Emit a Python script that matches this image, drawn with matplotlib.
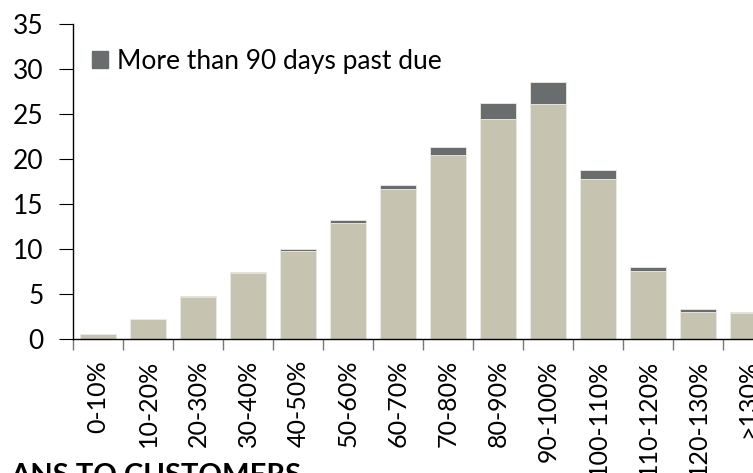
import matplotlib.pyplot as plt
from matplotlib.patches import Patch

plt.rcParams['font.family'] = ['Lato', 'DejaVu Sans']

categories = ['0-10%', '10-20%', '20-30%', '30-40%', '40-50%', '50-60%', '60-70%',
              '70-80%', '80-90%', '90-100%', '100-110%', '110-120%', '120-130%', '>130%']
# light part (up to 90 days) and dark part (more than 90 days past due)
current = [0.55, 2.2, 4.7, 7.3, 9.8, 12.9, 16.7, 20.5, 24.4, 26.1, 17.8, 7.55, 3.05, 2.85]
past_due = [0.02, 0.06, 0.08, 0.12, 0.16, 0.3, 0.45, 0.8, 1.85, 2.5, 1.0, 0.45, 0.28, 0.15]

light = '#c6c4b0'
dark = '#6a6d6d'

W, H = 753, 473
fig = plt.figure(figsize=(W / 100, H / 100), dpi=100)
ax = fig.add_axes([73 / W, (H - 339) / H, 700 / W, 315 / H])

x = list(range(len(categories)))
ax.bar(x, current, width=0.72, color=light, edgecolor='#ecebe3', linewidth=0.6)
ax.bar(x, past_due, bottom=current, width=0.72, color=dark, edgecolor='#ecebe3',
       linewidth=0.6, label='More than 90 days past due')

ax.set_xlim(-0.5, len(categories) - 0.5)
ax.set_ylim(0, 35)
ax.set_yticks(range(0, 36, 5))
ax.tick_params(axis='y', direction='out', length=10, width=0.8, pad=11, labelsize=19)

ax.set_xticks(x)
ax.set_xticklabels(categories, rotation=90, fontsize=18)
ax.set_xticks([i - 0.5 for i in range(len(categories) + 1)], minor=True)
ax.tick_params(axis='x', which='major', length=0, pad=15)
ax.tick_params(axis='x', which='minor', direction='out', length=8, width=1.0, color='#777777')

for s in ['top', 'right']:
    ax.spines[s].set_visible(False)
ax.spines['left'].set_linewidth(1.0)
ax.spines['bottom'].set_linewidth(1.0)

fig.legend(handles=[Patch(color=dark)], labels=['More than 90 days past due'],
           loc='upper left', bbox_to_anchor=(68 / W, 1 - 25 / H), frameon=False,
           fontsize=19, handlelength=0.6, handleheight=0.6, handletextpad=0.35)

fig.text(10 / W, 1 - 463 / H, 'ANS TO CUSTOMERS', fontsize=21, fontweight='bold',
         va='top', ha='left')

fig.savefig('out.png', dpi=100)
